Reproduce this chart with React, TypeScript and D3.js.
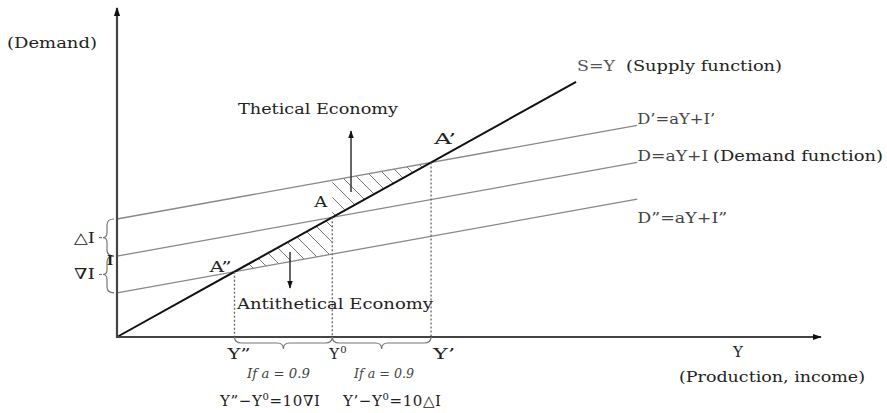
import * as d3 from 'd3';

// schematic model: S = Y, D = aY + I
const investment = [30.2, 20.7, 11.3]; // I', I, I''
const demandSlope = 0.324;
const demandLabels = ['D’=aY+I’', 'D=aY+I', 'D”=aY+I”'];
const incomeLabels = ['Y’', 'Y', 'Y”'];
const pointLabels = ['A’', 'A', 'A”'];
const supplyEnd = 65.3;
const demandEnd = 74;

const W = 887;
const H = 413;
const FONT = '"DejaVu Serif", "Liberation Serif", serif';

function brace(x1: number, x2: number, y0: number) {
  const m = (x1 + x2) / 2;
  return `M${x1},${y0} Q${x1},${y0 + 6} ${x1 + 7},${y0 + 6} L${m - 6},${y0 + 6} Q${m},${y0 + 6} ${m},${y0 + 12}` +
    ` Q${m},${y0 + 6} ${m + 6},${y0 + 6} L${x2 - 7},${y0 + 6} Q${x2},${y0 + 6} ${x2},${y0}`;
}

function vbrace(y1: number, y2: number, x0: number) {
  const m = (y1 + y2) / 2;
  return `M${x0},${y1} Q${x0 - 7},${y1} ${x0 - 7},${y1 + 6} L${x0 - 7},${m - 5} Q${x0 - 7},${m} ${x0 - 11},${m}` +
    ` Q${x0 - 7},${m} ${x0 - 7},${m + 5} L${x0 - 7},${y2 - 6} Q${x0 - 7},${y2} ${x0},${y2} M${x0 - 12},${m} L${x0 - 15},${m}`;
}

export default function App() {
  const x = d3.scaleLinear().domain([0, 100]).range([117, 820]);
  const y = d3.scaleLinear().domain([0, 84.2]).range([337, 8]);
  const line = d3.line<[number, number]>().x(d => x(d[0])).y(d => y(d[1]));

  const demand = (i: number, v: number) => demandSlope * v + investment[i];
  const eq = investment.map(I => I / (1 - demandSlope)); // Y', Y0, Y''
  const [yUp, y0, yDown] = eq;

  const upper: [number, number][] = [[y0, y0], [y0, demand(0, y0)], [yUp, yUp]];
  const lower: [number, number][] = [[yDown, yDown], [y0, y0], [y0, demand(2, y0)]];

  const axisY = y(0);
  const txt = { fontFamily: FONT, fill: '#222' } as const;
  const fit = (w: number) => ({ textLength: w, lengthAdjust: 'spacingAndGlyphs' as const });
  const demandWidths = [78, 71, 90];

  return (
    <svg width={W} height={H} style={{ position: 'absolute', left: 0, top: 0, background: '#fff' }}>
      <defs>
        <pattern id="hatch" patternUnits="userSpaceOnUse" width="15" height="15">
          <path d="M-1,-1 L16,16 M-1,14 L1,16 M14,-1 L16,1" stroke="#777" strokeWidth="1" />
        </pattern>
        <marker id="head" viewBox="0 0 10 10" refX="9" refY="5" markerUnits="userSpaceOnUse" markerWidth="9" markerHeight="9" orient="auto">
          <path d="M0,1.5 L10,5 L0,8.5 Z" fill="#111" />
        </marker>
        <marker id="small" viewBox="0 0 10 10" refX="9" refY="5" markerUnits="userSpaceOnUse" markerWidth="8" markerHeight="8" orient="auto">
          <path d="M0,1.5 L10,5 L0,8.5 Z" fill="#111" />
        </marker>
      </defs>

      {/* hatched gaps */}
      <path d={line(upper) + 'Z'} fill="url(#hatch)" />
      <path d={line(lower) + 'Z'} fill="url(#hatch)" />

      {/* demand lines */}
      {investment.map((_, i) => (
        <path key={i} d={line([[0, demand(i, 0)], [demandEnd, demand(i, demandEnd)]]) ?? ''}
          stroke="#888" strokeWidth={1.3} fill="none" />
      ))}

      {/* supply */}
      <path d={line([[0, 0], [supplyEnd, supplyEnd]]) ?? ''} stroke="#111" strokeWidth={2} fill="none" />

      {/* dotted verticals */}
      {eq.map((v, i) => (
        <line key={i} x1={x(v)} x2={x(v)} y1={y(v)} y2={axisY} stroke="#666" strokeWidth={1.3} strokeDasharray="2,2" />
      ))}

      {/* axes */}
      <line x1={x(0)} x2={x(0)} y1={axisY + 1} y2={8} stroke="#444" strokeWidth={2.2} markerEnd="url(#head)" />
      <line x1={x(0) - 1} x2={821} y1={axisY} y2={axisY} stroke="#444" strokeWidth={2.2} markerEnd="url(#head)" />

      {/* braces under axis */}
      <path d={brace(x(yDown), x(y0), axisY)} stroke="#777" strokeWidth={1.2} fill="none" />
      <path d={brace(x(y0), x(yUp), axisY)} stroke="#777" strokeWidth={1.2} fill="none" />

      {/* braces on y-axis */}
      <path d={vbrace(y(investment[0]), y(investment[1]), x(0) - 3)} stroke="#777" strokeWidth={1.2} fill="none" />
      <path d={vbrace(y(investment[1]), y(investment[2]), x(0) - 3)} stroke="#777" strokeWidth={1.2} fill="none" />
      <text x={74} y={y((investment[0] + investment[1]) / 2) + 5} fontSize={15} {...txt} {...fit(21)}>△I</text>
      <text x={74} y={y((investment[1] + investment[2]) / 2) + 5} fontSize={15} {...txt} {...fit(21)}>∇I</text>
      <text x={110} y={y(investment[1]) + 9} textAnchor="middle" fontSize={13} fontWeight="bold" {...txt}>I</text>

      {/* arrows up / down */}
      <line x1={351} x2={351} y1={192} y2={131} stroke="#333" strokeWidth={1.5} markerEnd="url(#small)" />
      <line x1={290} x2={290} y1={252} y2={288} stroke="#333" strokeWidth={1.5} markerEnd="url(#small)" />

      {/* titles */}
      <text x={7} y={48} fontSize={14} {...txt} {...fit(90)}>(Demand)</text>
      <text x={577} y={71} fontSize={14} {...txt} fill="#555" {...fit(38)}>S=Y</text>
      <text x={626} y={71} fontSize={15} {...txt} {...fit(156)}>(Supply function)</text>
      {demandLabels.map((t, i) => (
        <text key={t} x={x(demandEnd)} y={y(demand(i, demandEnd)) + (i === 2 ? 24 : -1)} fontSize={15}
          {...txt} fill="#444" {...fit(demandWidths[i])}>{t}</text>
      ))}
      <text x={713} y={161} fontSize={15} {...txt} {...fit(170)}>(Demand function)</text>
      <text x={238} y={114} fontSize={15} {...txt} {...fit(160)}>Thetical Economy</text>
      <text x={237} y={309} fontSize={15} {...txt} {...fit(196)}>Antithetical Economy</text>

      {/* points */}
      <text x={x(yUp) + 3} y={y(yUp) - 18} fontSize={15} {...txt} {...fit(22)}>{pointLabels[0]}</text>
      <text x={x(y0) - 18} y={y(y0) - 10} fontSize={15} {...txt} {...fit(13)}>{pointLabels[1]}</text>
      <text x={x(yDown) - 25} y={y(yDown)} fontSize={15} {...txt} {...fit(22)}>{pointLabels[2]}</text>

      {/* incomes */}
      <text x={x(yUp) + 2} y={359} fontSize={15} {...txt} {...fit(22)}>{incomeLabels[0]}</text>
      <text x={x(y0) - 3} y={359} fontSize={15} {...txt} letterSpacing={1}>{incomeLabels[1]}<tspan dy={-6} fontSize={10}>0</tspan></text>
      <text x={x(yDown) - 7} y={359} fontSize={15} {...txt} {...fit(23)}>{incomeLabels[2]}</text>
      <text x={733} y={357} fontSize={15} {...txt}>Y</text>
      <text x={679} y={382} fontSize={15} {...txt} {...fit(186)}>(Production, income)</text>

      <text x={247} y={378} fontSize={12} fontStyle="italic" {...txt} fill="#444" {...fit(63)}>If a = 0.9</text>
      <text x={354} y={378} fontSize={12} fontStyle="italic" {...txt} fill="#444" {...fit(60)}>If a = 0.9</text>
      <text x={220} y={406} fontSize={15} {...txt} letterSpacing={0.6}>Y”−Y<tspan dy={-6} fontSize={10}>0</tspan><tspan dy={6}>=10∇I</tspan></text>
      <text x={343} y={406} fontSize={15} {...txt} letterSpacing={0.6}>Y’−Y<tspan dy={-6} fontSize={10}>0</tspan><tspan dy={6}>=10△I</tspan></text>
    </svg>
  );
}
